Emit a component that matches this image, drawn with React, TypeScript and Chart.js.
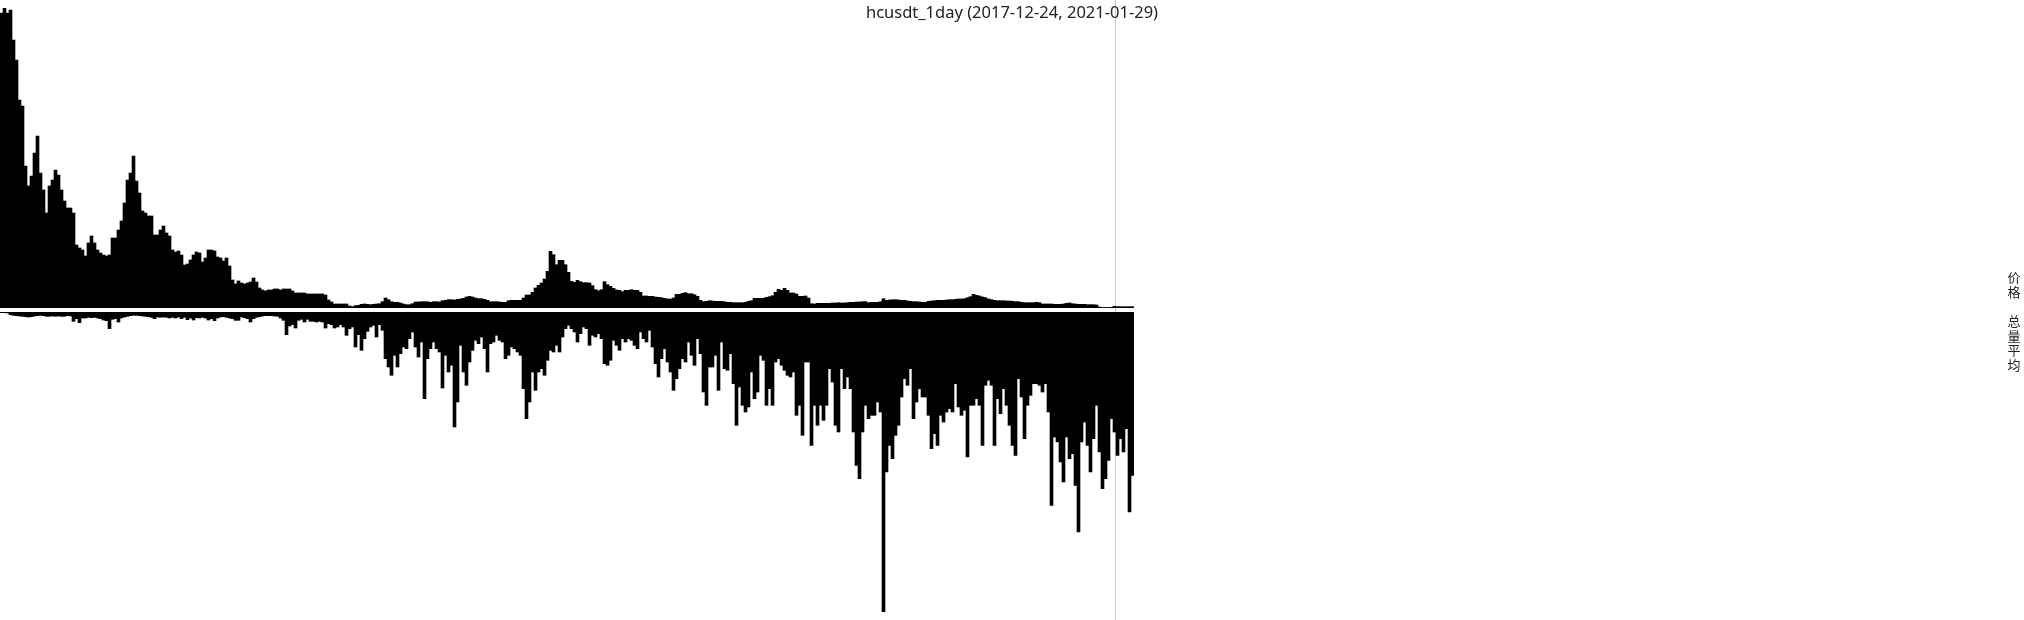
import React, { useEffect, useRef } from "react";
import { Chart, registerables } from "chart.js";

Chart.register(...registerables);

const TITLE = "hcusdt_1day (2017-12-24, 2021-01-29)";
const PRICE_LABEL = "价格";
const VOLUME_LABEL = "总量平均";
const START = [2017, 11, 24];
const STEP_DAYS = 3;
const MARKER_INDEX = 371;

// 价格 (one bar per 3 days)
const price: number[] = [
  29.5, 30.0, 29.5, 29.8, 26.8, 24.8, 20.8, 20.2, 14.2, 12.2,
  13.2, 15.5, 17.2, 13.5, 11.8, 9.5, 12.2, 12.8, 13.8, 13.3,
  11.8, 10.7, 10.0, 10.0, 9.5, 6.3, 6.0, 5.8, 5.2, 6.5,
  7.2, 6.5, 5.8, 5.5, 5.3, 5.2, 5.3, 7.0, 7.0, 7.8,
  8.7, 10.5, 12.8, 13.5, 15.2, 12.7, 11.5, 9.7, 9.5, 9.2,
  9.2, 7.3, 7.3, 7.8, 8.2, 7.5, 7.2, 5.8, 5.6, 5.7,
  5.3, 4.3, 4.4, 4.8, 5.3, 5.6, 5.5, 4.6, 5.0, 5.8,
  5.8, 5.7, 5.1, 5.0, 4.7, 5.0, 4.2, 2.8, 2.4, 2.7,
  2.5, 2.4, 2.5, 2.6, 3.0, 2.6, 2.0, 1.8, 1.7, 1.8,
  1.8, 1.9, 1.9, 1.8, 1.9, 1.9, 1.9, 1.7, 1.5, 1.5,
  1.5, 1.5, 1.4, 1.4, 1.4, 1.4, 1.4, 1.4, 1.3, 0.8,
  0.6, 0.4, 0.4, 0.4, 0.4, 0.4, 0.2, 0.13, 0.23, 0.27,
  0.37, 0.4, 0.37, 0.33, 0.37, 0.4, 0.43, 0.63, 1.0, 0.83,
  0.63, 0.57, 0.57,
  0.5, 0.4, 0.33, 0.33, 0.43, 0.6, 0.6, 0.63, 0.63, 0.63,
  0.57, 0.63, 0.63, 0.6, 0.73, 0.77, 0.83, 0.83, 0.8, 0.87,
  0.9, 0.97, 1.1, 1.17, 1.1, 1.0, 0.93, 0.93, 0.87, 0.77,
  0.63, 0.63, 0.63, 0.6, 0.57, 0.57, 0.73, 0.77, 0.77, 0.77,
  0.77, 1.0, 1.3, 1.3, 1.57, 2.0, 2.27, 2.5, 2.9, 3.67,
  5.67, 5.33, 4.33, 4.77, 4.77, 4.33, 3.57, 2.67, 2.57, 2.77,
  2.63, 2.53, 2.53, 2.5, 2.23, 1.83, 1.73, 1.83, 2.63, 2.33,
  2.17, 1.97, 1.8, 1.77, 1.63, 1.77, 1.77, 1.83, 1.77, 1.77,
  1.57, 1.2, 1.2, 1.17, 1.17, 1.1, 1.07, 1.03, 0.97, 0.9,
  0.9, 1.0, 1.37, 1.37, 1.47, 1.53, 1.43, 1.43, 1.33, 1.17,
  0.77, 0.63, 0.67, 0.73, 0.7, 0.67, 0.67, 0.67, 0.63, 0.57,
  0.57, 0.53, 0.53, 0.53, 0.53, 0.57, 0.67, 0.73, 0.97, 0.97,
  0.97, 0.97, 1.07, 1.13, 1.23, 1.57, 1.87, 1.77, 1.97, 1.77,
  1.5, 1.5, 1.4, 1.17,
  1.17, 1.2, 1.0, 0.43, 0.4, 0.47, 0.47, 0.47, 0.47, 0.47,
  0.5, 0.5, 0.53, 0.5, 0.5, 0.53, 0.57, 0.57, 0.6, 0.6,
  0.63, 0.63, 0.53, 0.57, 0.57, 0.57, 0.63, 0.93, 0.77, 0.8,
  0.83, 0.83, 0.8, 0.77, 0.77, 0.7, 0.67, 0.63, 0.63, 0.6,
  0.57, 0.57, 0.67, 0.7, 0.73, 0.77, 0.77, 0.77, 0.8, 0.83,
  0.83, 0.87, 0.9, 0.9, 0.93, 1.03, 1.13, 1.37, 1.27, 1.2,
  1.1, 1.03, 0.9, 0.83, 0.77, 0.73, 0.73, 0.73, 0.7, 0.7,
  0.67, 0.63, 0.63, 0.57, 0.53, 0.53, 0.53, 0.53, 0.57, 0.53,
  0.4, 0.4, 0.4, 0.4, 0.37, 0.37, 0.37, 0.4, 0.47, 0.5,
  0.43, 0.4, 0.37, 0.37, 0.37, 0.33, 0.33, 0.33, 0.3, 0.1,
  0.05, 0.05, 0.05, 0.07, 0.17, 0.13, 0.13, 0.13, 0.13, 0.13,
  0.13,
];

// 总量平均 (one bar per 3 days)
const volumeAvg: number[] = [
  0.07, 0.07, 0.1, 0.27, 0.33, 0.37, 0.4, 0.43, 0.47, 0.5,
  0.47, 0.4, 0.37, 0.33, 0.37, 0.43, 0.43, 0.4, 0.43, 0.4,
  0.43, 0.43, 0.37, 0.4, 0.93, 0.67, 1.07, 0.6, 0.6, 0.53,
  0.57, 0.53, 0.6, 0.67, 0.8, 0.87, 1.67, 0.73, 0.67, 1.0,
  0.6, 0.5, 0.43, 0.37, 0.33, 0.33, 0.37, 0.4, 0.43, 0.47,
  0.53, 0.67, 0.5, 0.53, 0.5, 0.53, 0.6, 0.53, 0.6, 0.5,
  0.67, 0.53, 0.77, 0.6, 0.8, 0.57, 0.6, 0.53, 0.6, 0.8,
  0.67, 0.87, 0.6, 0.5, 0.47, 0.53, 0.6,
  0.67, 0.83, 0.83, 0.5, 0.57, 0.67, 1.0, 0.67, 0.53, 0.47,
  0.4, 0.37, 0.37, 0.37, 0.4, 0.43, 0.6, 0.83, 2.27, 1.4,
  1.27, 1.6, 0.83, 0.73, 1.0, 0.73, 0.93, 0.93, 1.0, 0.93,
  1.0, 1.6, 1.17, 1.27, 1.6, 1.5, 1.27, 1.5, 2.33, 1.67,
  1.5, 3.5, 2.27, 3.83, 2.67, 1.93, 1.5, 1.33, 2.5, 1.27,
  1.83, 4.67, 5.5, 6.33, 4.33, 5.5, 4.17, 3.5, 3.67, 2.67,
  2.0, 3.5, 4.5, 3.0, 8.67, 4.67, 3.67, 3.0, 3.67, 4.0,
  7.6, 4.33, 6.0, 5.33, 11.5, 9.0,
  3.33, 6.0, 7.33, 5.0, 3.83, 2.83, 3.17, 2.5, 3.67, 6.0,
  3.17, 3.0, 2.33, 2.83, 3.0, 4.67, 4.33, 3.5, 3.67, 4.0,
  4.33, 7.67, 10.67, 9.0, 6.0, 7.83, 6.0, 5.67, 6.33, 4.83,
  3.83, 4.0, 3.33, 4.0, 2.5, 1.67, 1.33, 1.67, 2.0, 3.0,
  2.17, 1.5, 1.67, 3.33, 2.33, 2.5, 2.17, 2.67, 5.17, 5.33,
  4.83, 2.83, 3.33, 3.83, 2.67, 3.0, 2.67, 2.83, 3.33, 3.67,
  2.0, 2.67, 3.0, 1.83, 3.5, 5.17, 6.5, 4.67, 3.67, 5.0,
  6.0, 7.83, 6.67, 5.67, 4.67, 5.0, 3.0,
  4.33, 5.33, 2.67, 4.17, 8.0, 9.33, 5.5, 5.5, 4.33, 7.83,
  3.0, 5.67, 5.83, 4.17, 7.17, 11.33, 7.5, 9.33, 10.0, 9.5,
  6.0, 8.67, 8.0, 4.33, 4.83, 9.33, 7.67, 9.33, 5.0, 4.67,
  5.33, 5.83, 6.33, 6.5, 6.0, 10.33, 9.33, 12.33, 5.0, 5.0,
  13.33, 9.33, 11.33, 9.33, 10.83, 9.33, 5.67, 7.0, 11.33, 12.0,
  5.67, 7.67, 6.5, 7.67, 12.0, 15.33, 16.67, 12.0, 9.33, 10.67,
  10.33, 10.33, 9.0, 10.0, 30.0, 16.0, 13.33, 14.67, 12.33, 11.33,
  8.5, 6.67, 7.33, 5.67, 10.67, 9.0, 7.67,
  8.5, 8.5, 10.33, 13.67, 12.17, 13.33, 10.33, 11.0, 10.0, 9.67,
  10.0, 7.17, 9.5, 10.33, 9.83, 14.5, 9.33, 9.33, 8.67, 9.33,
  13.33, 7.33, 6.83, 7.33, 13.33, 8.67, 10.17, 7.67, 9.33, 11.33,
  13.33, 14.33, 6.67, 8.5, 12.67, 9.33, 8.33, 7.17, 7.17, 7.33,
  8.0, 7.17, 10.0, 19.33, 12.5, 13.0, 15.0, 17.0, 12.5, 14.67,
  14.17, 17.33, 22.0, 13.0, 11.0, 13.33, 16.0, 12.67, 9.33, 14.0,
  17.67, 16.67, 14.83, 10.67, 12.0, 14.33, 12.67, 14.0, 11.67, 20.0,
  16.33,
];

const dates: string[] = price.map((_, i) =>
  new Date(Date.UTC(START[0], START[1], START[2] + i * STEP_DAYS)).toISOString().slice(0, 10)
);

const Y_MAX = 30;

const markerPlugin = {
  id: "dayMarker",
  beforeDatasetsDraw(chart: any) {
    const x = Math.round(chart.scales.x.getPixelForValue(MARKER_INDEX)) + 0.5;
    const ctx = chart.ctx;
    ctx.save();
    ctx.strokeStyle = "#cccccc";
    ctx.lineWidth = 1;
    ctx.beginPath();
    ctx.moveTo(x, 0);
    ctx.lineTo(x, chart.height);
    ctx.stroke();
    ctx.restore();
  },
};

function makeConfig(label: string, values: number[], reverse: boolean, padding: any): any {
  return {
    type: "bar",
    data: {
      labels: dates,
      datasets: [
        {
          label,
          data: values,
          backgroundColor: "#000000",
          borderWidth: 0,
          categoryPercentage: 1,
          barPercentage: 1,
        },
      ],
    },
    options: {
      animation: false,
      responsive: false,
      devicePixelRatio: 1,
      layout: { padding },
      plugins: {
        legend: { display: false },
        title: { display: false },
        tooltip: { enabled: false },
      },
      scales: {
        x: { display: false, offset: true, grid: { display: false } },
        y: { display: false, min: 0, max: Y_MAX, reverse, grid: { display: false } },
      },
    },
    plugins: [markerPlugin],
  };
}

function VerticalLabel({ text, top }: { text: string; top: number }) {
  return (
    <div
      style={{
        position: "absolute",
        left: 2007,
        top,
        width: 14,
        fontFamily: "'Noto Sans CJK SC', sans-serif",
        fontSize: 13,
        lineHeight: "14.5px",
        color: "#222",
        textAlign: "center",
      }}
    >
      {Array.from(text).map((ch, i) => (
        <div key={i}>{ch}</div>
      ))}
    </div>
  );
}

export default function App() {
  const topRef = useRef<HTMLCanvasElement>(null);
  const bottomRef = useRef<HTMLCanvasElement>(null);

  useEffect(() => {
    const top = new Chart(
      topRef.current as HTMLCanvasElement,
      makeConfig(PRICE_LABEL, price, false, { top: 8, bottom: 4, left: 0, right: 890 })
    );
    const bottom = new Chart(
      bottomRef.current as HTMLCanvasElement,
      makeConfig(VOLUME_LABEL, volumeAvg, true, { top: 0, bottom: 8, left: 0, right: 890 })
    );
    return () => {
      top.destroy();
      bottom.destroy();
    };
  }, []);

  return (
    <div style={{ position: "absolute", left: 0, top: 0, width: 2024, height: 620, background: "#fff", overflow: "hidden" }}>
      <canvas ref={topRef} width={2024} height={312} style={{ position: "absolute", left: 0, top: 0, width: 2024, height: 312 }} />
      <canvas ref={bottomRef} width={2024} height={308} style={{ position: "absolute", left: 0, top: 312, width: 2024, height: 308 }} />
      <div
        style={{
          position: "absolute",
          left: 0,
          top: 0,
          width: 2024,
          textAlign: "center",
          fontFamily: "'Noto Sans', sans-serif",
          fontSize: 16.5,
          color: "#222",
          whiteSpace: "nowrap",
        }}
      >
        {TITLE}
      </div>
      <VerticalLabel text={PRICE_LABEL} top={270} />
      <VerticalLabel text={VOLUME_LABEL} top={314} />
    </div>
  );
}
